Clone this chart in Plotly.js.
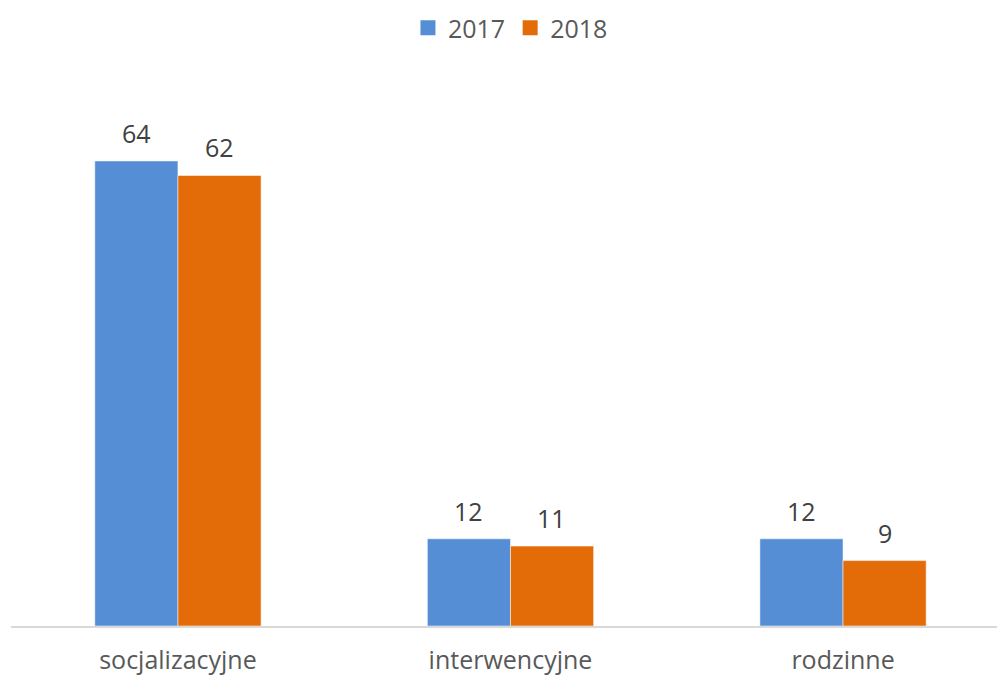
<!DOCTYPE html>
<html><head><meta charset="utf-8">
<script src="https://cdn.plot.ly/plotly-3.0.1.min.js"></script>
<style>html,body{margin:0;padding:0;background:#fff}</style>
</head><body>
<div id="chart" style="width:997px;height:677px"></div>
<script>
const categories = ["socjalizacyjne", "interwencyjne", "rodzinne"];
const values2017 = [64, 12, 12];
const values2018 = [62, 11, 9];
const seriesNames = ["2017", "2018"];
const colors = ["#558ED5", "#E36C09"];

const traces = [values2017, values2018].map((vals, i) => ({
  type: "bar",
  name: seriesNames[i],
  x: categories,
  y: vals,
  showlegend: false,
  marker: {color: colors[i], line: {color: "rgba(255,255,255,0.5)", width: 1}},
  hoverinfo: "none"
}));

// legend-only entries with larger square swatches
seriesNames.forEach((n, i) => {
  traces.push({
    type: "scatter", mode: "markers", name: n,
    x: [null], y: [null],
    marker: {symbol: "square", size: 15, color: colors[i]},
    hoverinfo: "none"
  });
});

const annotations = [];
[values2017, values2018].forEach((vals, i) => {
  vals.forEach((v, j) => {
    annotations.push({
      x: categories[j], y: v, xref: "x", yref: "y",
      text: String(v), showarrow: false,
      xshift: i === 0 ? -41.5 : 41.5, yshift: 9, yanchor: "bottom",
      font: {family: "Open Sans, sans-serif", size: 25, color: "#404040"}
    });
  });
});

const layout = {
  width: 997, height: 677,
  margin: {l: 11, r: 0, t: 80, b: 51},
  paper_bgcolor: "#fff", plot_bgcolor: "#fff",
  barmode: "group", bargap: 0.5, bargroupgap: 0,
  xaxis: {
    type: "category", range: [-0.502, 2.463],
    showline: true, linecolor: "#D9D9D9", linewidth: 1.5,
    showgrid: false, zeroline: false, ticks: "",
    tickfont: {family: "Open Sans, sans-serif", size: 25, color: "#595959"},
    ticklabelstandoff: 11
  },
  yaxis: {range: [0, 75.14], visible: false, showgrid: false, zeroline: false},
  showlegend: true,
  legend: {
    orientation: "h", xref: "container", yref: "container",
    x: 0.512, xanchor: "center", y: 1 - 28/677, yanchor: "middle",
    font: {family: "Open Sans, sans-serif", size: 25, color: "#595959"},
    itemwidth: 30, traceorder: "normal"
  },
  annotations: annotations
};

Plotly.newPlot("chart", traces, layout, {displayModeBar: false, staticPlot: true});
</script>
</body></html>
